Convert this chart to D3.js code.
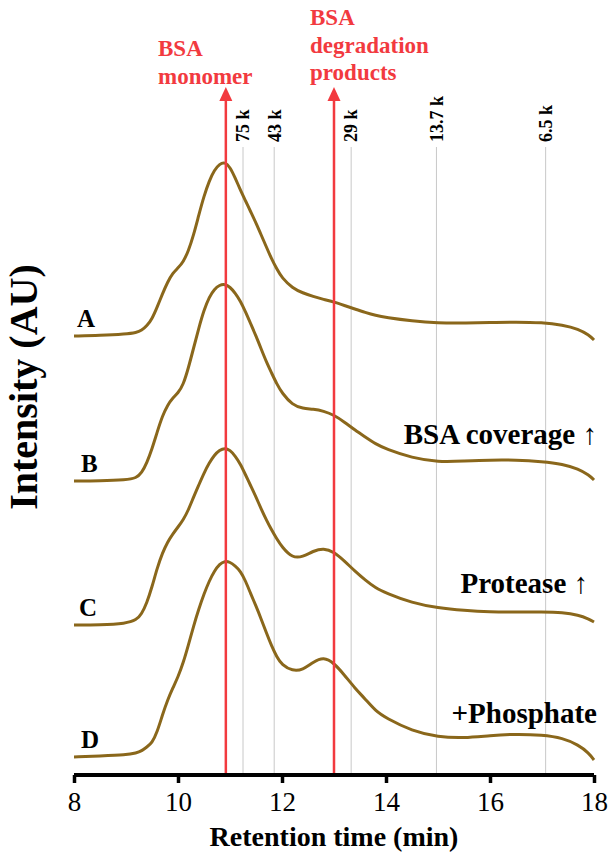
<html>
<head>
	<meta charset="UTF-8">
	<title>SEC traces</title>
	<script src="https://cdn.jsdelivr.net/npm/d3@7"></script>
	<style>
		body {
			padding: 0;
			margin: 0;
			background: #fff;
		}
		text {
			font-family: "Liberation Serif", "Times New Roman", serif;
		}
	</style>
</head>
<body>
	<script>
		var w = 608,
			h = 857;

		// retention time grid (min)
		var times = [8.0, 8.5, 9.0, 9.2, 9.3, 9.4, 9.5, 9.6, 9.7, 9.8, 9.9, 10.0, 10.1, 10.2, 10.3, 10.4, 10.5,
			10.6, 10.7, 10.8, 10.9, 11.0, 11.1, 11.2, 11.3, 11.4, 11.5, 11.6, 11.7, 11.8, 11.9, 12.0,
			12.2, 12.4, 12.6, 12.8, 13.0, 13.2, 13.4, 13.6, 13.8, 14.0, 14.5, 15.0, 15.5, 16.0, 16.5,
			17.0, 17.4, 17.7, 17.9, 18.0];

		// signal above each trace's own baseline (AU)
		var traceA = [0, 0.05, 0.2, 0.35, 0.55, 1.0, 1.7, 2.9, 4.2, 5.4, 6.3, 6.8, 7.4, 8.5, 10.1, 12.1, 14.0,
			15.5, 16.6, 17.2, 17.4, 16.9, 15.8, 14.6, 13.5, 12.4, 11.3, 10.1, 8.9, 7.7, 6.7, 5.8,
			4.8, 4.3, 3.95, 3.65, 3.4, 3.05, 2.7, 2.35, 2.05, 1.85, 1.5, 1.3, 1.3, 1.35, 1.4,
			1.35, 1.1, 0.7, 0.1, -0.4];
		var traceB = [0, 0, 0.1, 0.3, 0.8, 1.8, 3.2, 4.9, 6.5, 7.6, 8.3, 8.8, 9.6, 11.3, 13.3, 15.3, 17.1,
			18.4, 19.2, 19.6, 19.7, 19.4, 18.8, 18.0, 16.9, 15.7, 14.5, 13.2, 11.9, 10.8, 9.7, 8.8,
			7.6, 7.25, 7.2, 7.0, 6.6, 5.9, 5.1, 4.4, 3.7, 3.2, 2.3, 1.9, 2.0, 2.1, 2.1,
			1.95, 1.7, 1.2, 0.6, 0.1];
		var traceC = [0, 0, 0.15, 0.5, 1.1, 2.2, 3.8, 5.7, 7.2, 8.3, 9.1, 9.8, 10.5, 11.5, 12.8, 14.0, 15.2,
			16.2, 17.0, 17.5, 17.7, 17.5, 16.9, 16.1, 15.0, 13.9, 12.8, 11.6, 10.5, 9.5, 8.6, 7.8,
			6.7, 6.8, 7.4, 7.7, 7.3, 6.4, 5.4, 4.5, 3.7, 3.2, 2.2, 1.7, 1.45, 1.3, 1.3,
			1.3, 1.25, 1.0, 0.6, 0.3];
		var traceD = [0, 0.1, 0.2, 0.4, 0.6, 1.0, 1.4, 2.5, 4.2, 5.7, 6.9, 8.0, 9.4, 11.2, 13.1, 14.8, 16.3,
			17.6, 18.6, 19.3, 19.6, 19.5, 19.1, 18.6, 17.6, 16.3, 15.1, 13.8, 12.4, 11.1, 10.0, 9.2,
			8.6, 8.7, 9.5, 10.0, 9.4, 8.2, 6.9, 5.8, 4.6, 3.9, 2.6, 2.0, 1.9, 2.15, 2.3,
			2.2, 1.9, 1.2, 0.4, -0.3];

		var traceNames = ["A", "B", "C", "D"];
		var traceOffsets = [43.9, 29.4, 15.0, 1.8];
		var traceNotes = ["", "BSA coverage \u2191", "Protease \u2191", "+Phosphate"];

		var xTicks = [8, 10, 12, 14, 16, 18];

		// molecular weight markers
		var mwLabels = ["75 k", "43 k", "29 k", "13.7 k", "6.5 k"];
		var mwTimes = [11.25, 11.85, 13.33, 14.97, 17.07];

		// red reference lines
		var refTimes = [10.92, 13.0];
		var refLabels = [["BSA", "monomer"], ["BSA", "degradation", "products"]];

		var traces = [traceA, traceB, traceC, traceD];

		var x = d3.scaleLinear().domain([8, 18]).range([74, 594]);
		var y = d3.scaleLinear().domain([0, 62.5]).range([775, 150]);

		var lineColor = "#8a671b",
			red = "#f23a3f";

		var svg = d3.select("body").append("svg")
			.attr("width", w)
			.attr("height", h);

		// grey MW lines
		svg.selectAll("line.mw")
			.data(mwTimes)
			.enter().append("line")
			.attr("class", "mw")
			.attr("x1", function (d) { return x(d); })
			.attr("x2", function (d) { return x(d); })
			.attr("y1", 147)
			.attr("y2", y(0))
			.attr("stroke", "#c8c8c8")
			.attr("stroke-width", 1);

		svg.selectAll("text.mw")
			.data(mwLabels)
			.enter().append("text")
			.attr("class", "mw")
			.attr("transform", function (d, i) {
				return "translate(" + x(mwTimes[i]) + ",142) rotate(-90)";
			})
			.attr("dy", "0.35em")
			.attr("font-size", 18)
			.attr("font-weight", "bold")
			.text(function (d) { return d; });

		// traces
		var line = d3.line()
			.x(function (d) { return x(d[0]); })
			.y(function (d) { return y(d[1]); })
			.curve(d3.curveBasis);

		traces.forEach(function (tr, i) {
			var pts = times.map(function (t, j) { return [t, tr[j] + traceOffsets[i]]; });
			svg.append("path")
				.attr("d", line(pts))
				.attr("fill", "none")
				.attr("stroke", lineColor)
				.attr("stroke-width", 3)
				.attr("stroke-linejoin", "round");
		});

		// trace letters
		svg.selectAll("text.name")
			.data(traceNames)
			.enter().append("text")
			.attr("class", "name")
			.attr("x", function (d, i) { return [77, 81, 79, 81][i]; })
			.attr("y", function (d, i) { return y(traceOffsets[i]) - 9; })
			.attr("font-size", 25)
			.attr("font-weight", "bold")
			.text(function (d) { return d; });

		// notes on the right
		svg.selectAll("text.note")
			.data(traceNotes)
			.enter().append("text")
			.attr("class", "note")
			.attr("x", function (d, i) { return [0, 597, 588, 597][i]; })
			.attr("y", function (d, i) { return [0, 444, 593, 723][i]; })
			.attr("text-anchor", "end")
			.attr("font-size", 29)
			.attr("font-weight", "bold")
			.text(function (d) { return d; });

		// red reference lines with arrow heads
		refTimes.forEach(function (t, i) {
			var xp = x(t);
			svg.append("line")
				.attr("x1", xp).attr("x2", xp)
				.attr("y1", 98).attr("y2", y(0))
				.attr("stroke", red)
				.attr("stroke-width", 2.5);
			svg.append("path")
				.attr("d", "M" + xp + ",87 L" + (xp - 6.5) + ",101 L" + (xp + 6.5) + ",101 Z")
				.attr("fill", red);

			var lab = svg.append("text")
				.attr("x", [158, 310][i])
				.attr("y", [56, 25][i])
				.attr("fill", red)
				.attr("font-size", 23)
				.attr("font-weight", "bold");
			refLabels[i].forEach(function (s, k) {
				lab.append("tspan")
					.attr("x", [158, 310][i])
					.attr("dy", k === 0 ? 0 : 27.5)
					.text(s);
			});
		});

		// x axis
		var xAxis = d3.axisBottom(x)
			.tickValues(xTicks)
			.tickSize(8)
			.tickPadding(9)
			.tickFormat(d3.format("d"));

		var gx = svg.append("g")
			.attr("transform", "translate(0," + y(0) + ")")
			.call(xAxis);
		gx.select(".domain")
			.attr("stroke", "#000")
			.attr("stroke-width", 4)
			.attr("d", "M" + x(8) + ",0H" + x(18));
		gx.selectAll(".tick line")
			.attr("stroke", "#000")
			.attr("stroke-width", 3.5);
		gx.selectAll(".tick text")
			.attr("font-size", 27)
			.attr("font-family", "Liberation Serif, Times New Roman, serif")
			.attr("fill", "#000");

		svg.append("text")
			.attr("x", (x(8) + x(18)) / 2)
			.attr("y", 846)
			.attr("text-anchor", "middle")
			.attr("font-size", 28)
			.attr("font-weight", "bold")
			.text("Retention time (min)");

		svg.append("text")
			.attr("transform", "translate(37,387) rotate(-90)")
			.attr("text-anchor", "middle")
			.attr("font-size", 40)
			.attr("font-weight", "bold")
			.text("Intensity (AU)");
	</script>
</body>
</html>
